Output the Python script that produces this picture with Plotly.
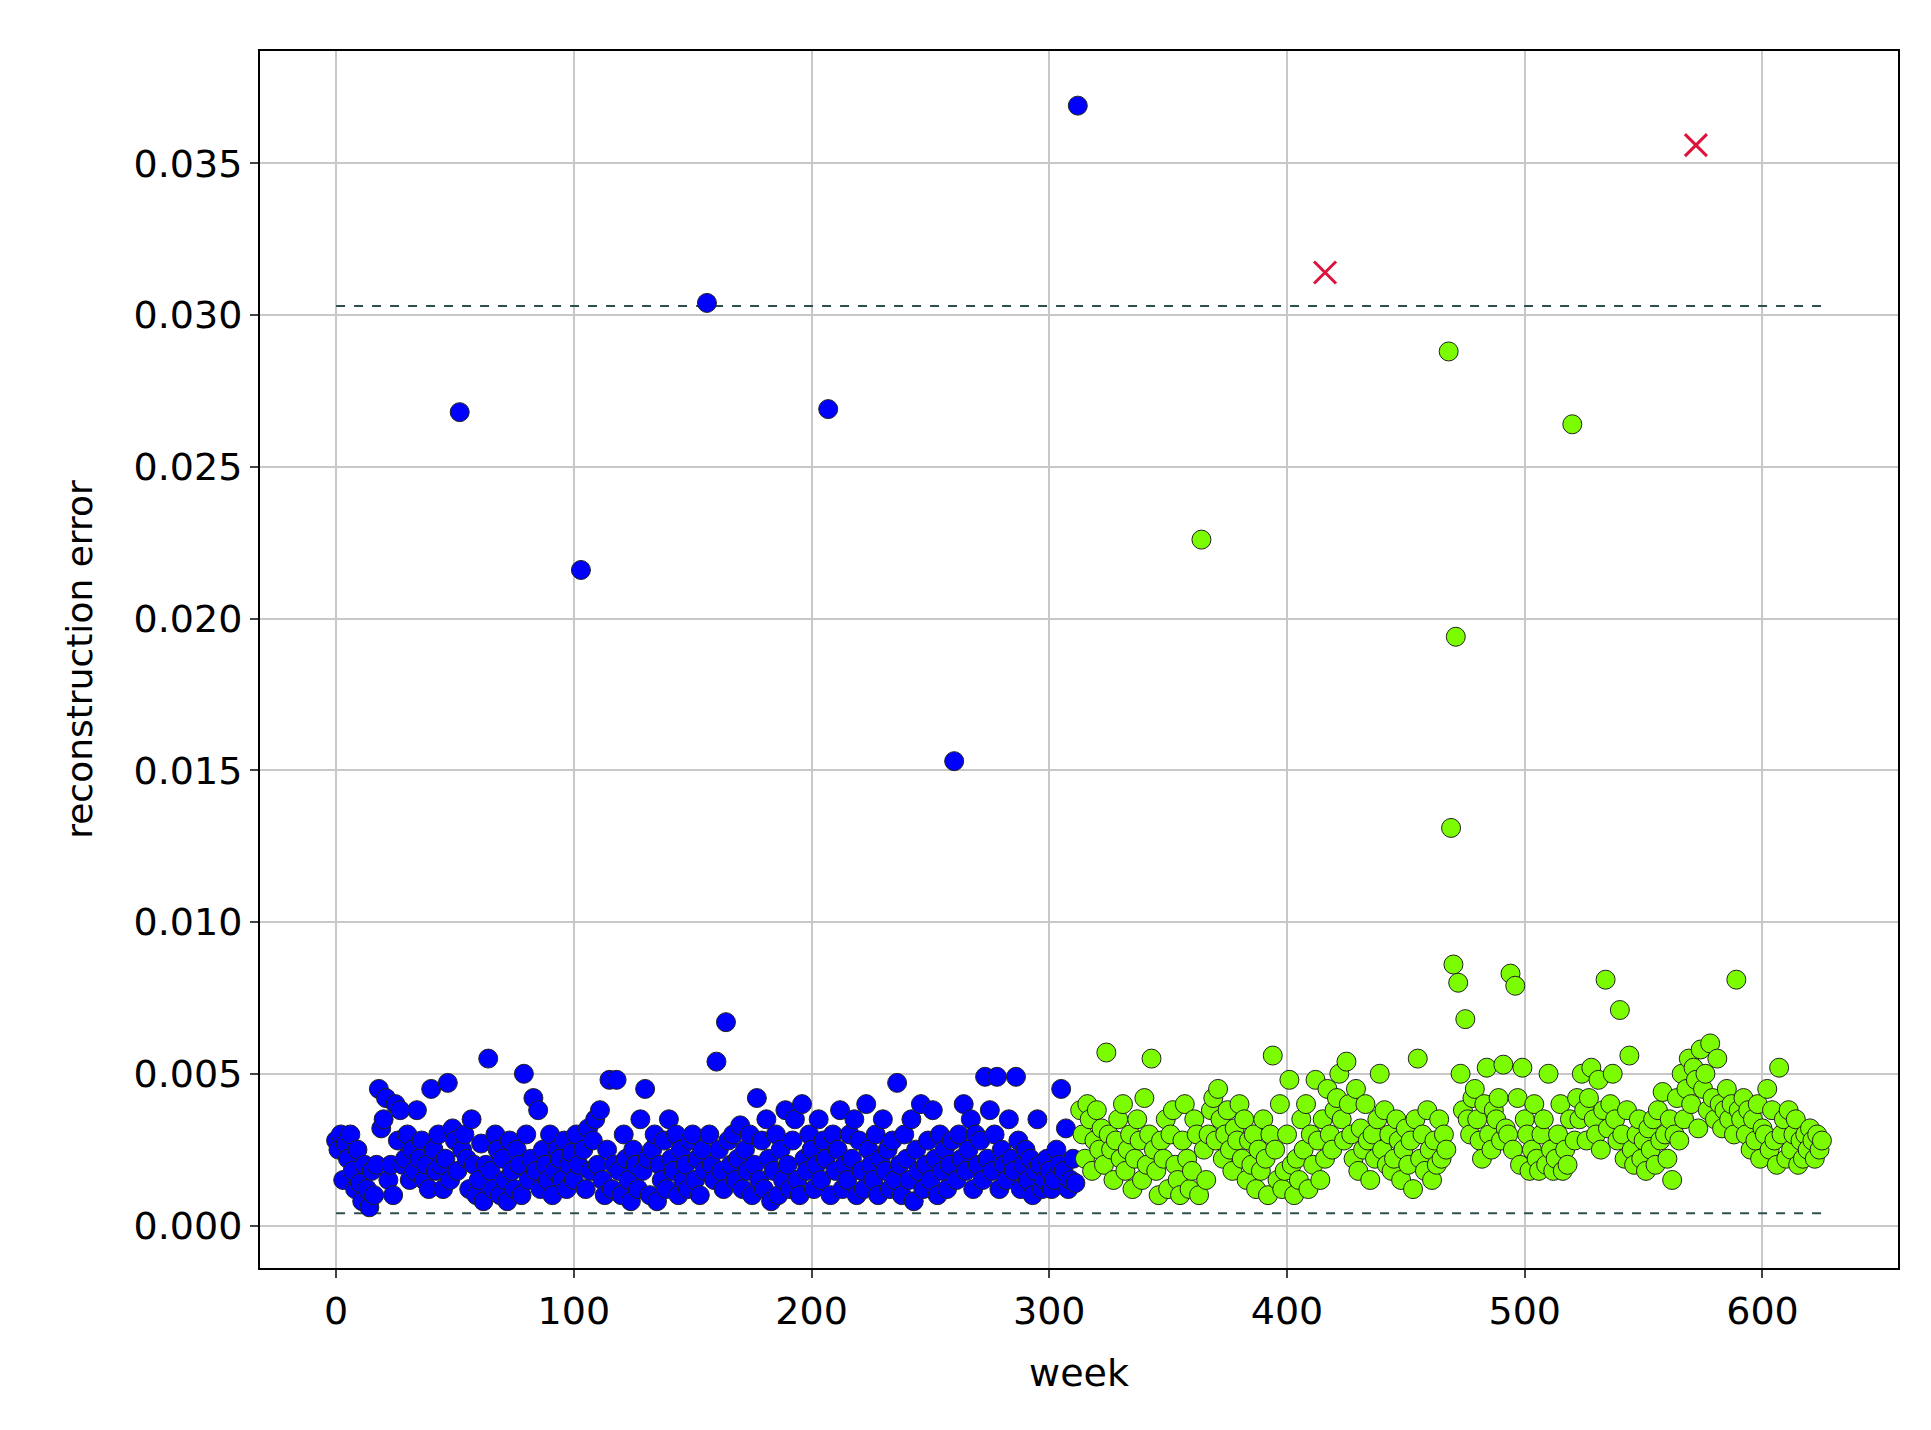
import plotly.graph_objects as go

# reconstruction error per week, in units of 1e-4
blue_err = [
    28, 25, 30, 15, 27, 22, 30, 18, 12, 25,
    14, 8, 20, 12, 6, 18, 10, 20, 45, 32,
    35, 42, 15, 20, 10, 40, 28, 38, 20, 22,
    30, 15, 25, 18, 38, 22, 28, 15, 20, 12,
    45, 25, 18, 30, 20, 12, 22, 47, 15, 32,
    28, 18, 268, 25, 30, 22, 12, 35, 20, 10,
    15, 27, 8, 20, 55, 18, 12, 30, 25, 10,
    22, 15, 8, 28, 18, 12, 25, 20, 10, 50,
    30, 15, 22, 42, 18, 38, 12, 25, 20, 15,
    30, 10, 18, 25, 22, 15, 28, 12, 20, 24,
    15, 30, 20, 216, 25, 12, 32, 18, 28, 35,
    20, 38, 15, 10, 25, 48, 12, 20, 48, 18,
    10, 30, 22, 15, 8, 25, 20, 12, 35, 18,
    45, 22, 10, 25, 30, 8, 20, 15, 28, 12,
    35, 22, 18, 30, 10, 25, 15, 20, 12, 28,
    30, 15, 22, 10, 25, 18, 304, 30, 20, 15,
    54, 25, 18, 12, 67, 28, 20, 30, 15, 22,
    33, 12, 25, 18, 30, 10, 20, 42, 15, 28,
    12, 35, 22, 8, 18, 30, 10, 25, 15, 38,
    20, 12, 28, 35, 15, 10, 40, 22, 18, 30,
    25, 12, 20, 35, 15, 28, 22, 269, 10, 30,
    18, 25, 38, 12, 20, 15, 30, 22, 35, 10,
    28, 18, 12, 40, 25, 20, 15, 30, 10, 22,
    35, 18, 25, 12, 28, 15, 47, 20, 10, 30,
    22, 15, 35, 8, 25, 18, 40, 12, 20, 28,
    15, 38, 22, 10, 30, 18, 25, 12, 20, 28,
    153, 15, 30, 22, 40, 18, 25, 35, 12, 30,
    20, 28, 15, 49, 22, 38, 18, 30, 49, 12,
    25, 20, 15, 35, 22, 18, 49, 28, 12, 20,
    25, 15, 22, 10, 18, 35, 20, 12, 15, 22,
    18, 12, 15, 25, 20, 45, 18, 32, 12, 15,
    22, 14, 369,
]
green_err = [
    38, 30, 22, 40, 35, 18, 28, 38, 25, 32,
    20, 57, 30, 25, 15, 28, 35, 22, 40, 18,
    25, 30, 12, 22, 35, 28, 15, 42, 20, 30,
    55, 25, 18, 10, 28, 22, 35, 12, 30, 38,
    20, 15, 10, 28, 40, 22, 12, 18, 35, 30,
    10, 226, 25, 15, 30, 38, 42, 28, 45, 35,
    22, 30, 38, 25, 18, 32, 28, 40, 22, 35,
    15, 28, 20, 30, 12, 25, 18, 35, 22, 10,
    30, 56, 25, 15, 40, 12, 18, 30, 48, 20,
    10, 22, 15, 35, 25, 40, 12, 30, 20, 48,
    28, 15, 35, 22, 45, 30, 25, 38, 42, 50,
    35, 28, 54, 40, 30, 22, 45, 18, 32, 25,
    40, 28, 15, 30, 22, 35, 50, 25, 38, 20,
    30, 18, 22, 35, 28, 15, 25, 32, 20, 28,
    12, 35, 55, 22, 30, 18, 38, 25, 15, 28,
    20, 35, 22, 30, 25, 288, 131, 86, 194, 80,
    50, 38, 68, 35, 30, 42, 45, 35, 28, 22,
    40, 52, 30, 25, 38, 35, 42, 28, 53, 32,
    30, 83, 25, 79, 42, 20, 52, 35, 30, 18,
    25, 40, 22, 18, 30, 35, 20, 50, 25, 18,
    22, 30, 40, 18, 25, 20, 35, 264, 28, 42,
    35, 50, 38, 28, 42, 52, 35, 30, 48, 25,
    38, 81, 32, 40, 50, 35, 28, 71, 30, 22,
    38, 56, 25, 20, 30, 35, 22, 28, 18, 32,
    25, 35, 20, 38, 28, 44, 30, 22, 35, 15,
    30, 42, 28, 50, 35, 45, 55, 40, 52, 48,
    32, 58, 45, 50, 38, 60, 42, 35, 55, 40,
    32, 38, 45, 35, 40, 30, 81, 38, 35, 42,
    30, 38, 25, 35, 28, 40, 22, 32, 30, 45,
    25, 38, 28, 20, 52, 30, 35, 22, 38, 25,
    30, 35, 20, 28, 22, 30, 25, 32, 28, 22,
    30, 25, 28,
]
anomaly_weeks = [416, 572]
anomaly_err = [0.0314, 0.0356]

upper_threshold = 0.0303
lower_threshold = 0.0004
threshold_weeks = [0, 625]

blue_weeks = list(range(len(blue_err)))
green_weeks = list(range(len(blue_err), len(blue_err) + len(green_err)))

fig = go.Figure()

for thr in [upper_threshold, lower_threshold]:
    fig.add_trace(go.Scatter(
        x=threshold_weeks, y=[thr, thr], mode="lines",
        line=dict(color="#2f4f4f", width=2, dash="dash"), showlegend=False,
    ))

fig.add_trace(go.Scatter(
    x=blue_weeks, y=[v * 1e-4 for v in blue_err], mode="markers",
    marker=dict(color="blue", size=19, line=dict(color="#222222", width=1)),
    showlegend=False,
))
fig.add_trace(go.Scatter(
    x=green_weeks, y=[v * 1e-4 for v in green_err], mode="markers",
    marker=dict(color="#7cfc00", size=19, line=dict(color="#222222", width=1)),
    showlegend=False,
))
fig.add_trace(go.Scatter(
    x=anomaly_weeks, y=anomaly_err, mode="markers",
    marker=dict(color="crimson", size=22, symbol="x-thin", line=dict(color="crimson", width=3)),
    showlegend=False,
))

axis_style = dict(
    showgrid=True, gridcolor="#c8c8c8", gridwidth=1.5,
    showline=True, linecolor="black", linewidth=2, mirror=True,
    ticks="outside", ticklen=8, tickwidth=2, zeroline=False,
    tickfont=dict(size=38, color="black"),
)

fig.update_layout(
    width=1931, height=1430,
    paper_bgcolor="white", plot_bgcolor="white",
    margin=dict(l=252, r=41, t=43, b=170),
    font=dict(family="DejaVu Sans", color="black"),
    xaxis=dict(axis_style, range=[-32, 657], tickvals=[0, 100, 200, 300, 400, 500, 600],
               title=dict(text="week", font=dict(size=38), standoff=28)),
    yaxis=dict(axis_style, range=[-0.0014, 0.0387],
               tickvals=[0, 0.005, 0.01, 0.015, 0.02, 0.025, 0.03, 0.035], tickformat=".3f",
               title=dict(text="reconstruction error", font=dict(size=36), standoff=30)),
)

fig.write_html("out.html")
